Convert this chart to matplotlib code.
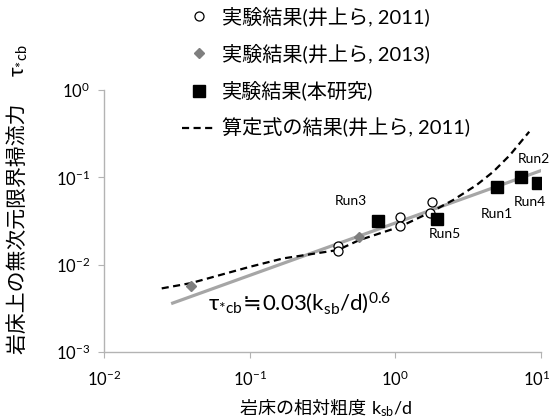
import matplotlib
matplotlib.use("Agg")
import matplotlib.pyplot as plt
import matplotlib.transforms as mtransforms
import numpy as np

plt.rcParams['font.family'] = ['Lato', 'Noto Sans CJK JP', 'DejaVu Sans']
plt.rcParams['mathtext.default'] = 'regular'

# measured data (k_sb/d, tau*cb)
inoue2011_x = [0.404, 0.404, 1.076, 1.076, 1.775, 1.73]
inoue2011_y = [0.0163, 0.0143, 0.0351, 0.0277, 0.0526, 0.0387]

inoue2013_x = [0.0395, 0.562]
inoue2013_y = [0.00569, 0.0207]

run_names = ['Run1', 'Run2', 'Run3', 'Run4', 'Run5']
run_x = [4.96, 7.28, 0.764, 9.48, 1.94]
run_y = [0.0768, 0.100, 0.0318, 0.0853, 0.033]

# computed curve (Inoue et al., 2011)
calc_x = [0.0249, 0.0395, 0.1005, 0.170, 0.402, 0.565, 1.076, 1.774,
          2.495, 3.614, 4.70, 6.12, 8.30]
calc_y = [0.00535, 0.00615, 0.00946, 0.0118, 0.0147, 0.0191, 0.0272,
          0.0404, 0.0550, 0.0817, 0.1159, 0.1799, 0.333]

# fitted power law tau = 0.03 (k/d)^0.6
fit_coef = 0.03
fit_exp = 0.6
fit_range = [0.0296, 10.0]

# label positions in pixel offsets from each square
run_offsets = {'Run1': (0, -27), 'Run2': (13, 18), 'Run3': (-27, 20),
               'Run4': (-8, -19), 'Run5': (8, -15)}

fig = plt.figure(figsize=(5.52, 4.19), dpi=100)
ax = fig.add_axes([0.1884, 0.1599, 0.7917, 0.6253])
renderer = fig.canvas.get_renderer()


def chain_text(x, y, parts, transform, vertical=False, **kw):
    # lay out text pieces one after another on a common baseline, so that
    # mathtext pieces and CJK pieces can each use their own font handling
    shift = 0.0
    for s in parts:
        if vertical:
            tr = mtransforms.offset_copy(transform, fig, x=0, y=shift, units='dots')
            t = fig.text(x, y, s, transform=tr, rotation=90, rotation_mode='anchor',
                         ha='left', va='baseline', **kw)
            shift += t.get_window_extent(renderer).height
        else:
            tr = mtransforms.offset_copy(transform, fig, x=shift, y=0, units='dots')
            t = fig.text(x, y, s, transform=tr, ha='left', va='baseline', **kw)
            shift += t.get_window_extent(renderer).width
    return shift


fx = np.array(fit_range)
ax.plot(fx, fit_coef * fx ** fit_exp, color='#a6a6a6', lw=2.3, zorder=2)
ax.plot(calc_x, calc_y, color='black', lw=1.6, ls=(0, (3.2, 2.0)), zorder=3,
        label='算定式の結果(井上ら, 2011)')
ax.plot(inoue2011_x, inoue2011_y, ls='none', marker='o', ms=6.5, mfc='white',
        mec='black', mew=0.9, zorder=4, label='実験結果(井上ら, 2011)')
ax.plot(inoue2013_x, inoue2013_y, ls='none', marker='D', ms=5.5, mfc='#7f7f7f',
        mec='#7f7f7f', zorder=5, label='実験結果(井上ら, 2013)')
ax.plot(run_x, run_y, ls='none', marker='s', ms=8.5, mfc='black', mec='black',
        zorder=6, label='実験結果(本研究)')

for name, x, y in zip(run_names, run_x, run_y):
    dx, dy = run_offsets[name]
    ax.annotate(name, (x, y), xytext=(dx, dy), textcoords='offset pixels',
                ha='center', va='center', fontsize=10, annotation_clip=False)

ax.set_xscale('log')
ax.set_yscale('log')
ax.set_xlim(0.01, 10)
ax.set_ylim(0.001, 1)
ax.set_xticks([0.01, 0.1, 1, 10])
ax.set_yticks([0.001, 0.01, 0.1, 1])
ax.set_xticklabels([r'10$^{-2}$', r'10$^{-1}$', r'10$^{0}$', r'10$^{1}$'])
ax.set_yticklabels([r'10$^{-3}$', r'10$^{-2}$', r'10$^{-1}$', r'10$^{0}$'])
ax.minorticks_off()
for side in ['top', 'right']:
    ax.spines[side].set_visible(False)
for side in ['left', 'bottom']:
    ax.spines[side].set_color('#b3b3b3')
    ax.spines[side].set_linewidth(1.0)
ax.tick_params(axis='both', which='major', direction='out', length=4,
               color='#b3b3b3', labelsize=12)
ax.tick_params(axis='x', pad=9)
ax.tick_params(axis='y', pad=6)

# nudge the rightmost x label so it stays inside the canvas
last = ax.get_xticklabels()[-1]
last.set_transform(last.get_transform()
                   + mtransforms.ScaledTranslation(-4 / 100, 0, fig.dpi_scale_trans))

# fitted-law caption
chain_text(0.052, 0.0030,
           [r'$\tau_{*cb}$', '≒', r'0.03(k$_{sb}$/d)$^{0.6}$'],
           ax.transData, fontsize=16)

# axis titles
chain_text(0.435, 0.012, ['岩床の相対粗度 ', r'k$_{sb}$/d'],
           fig.transFigure, fontsize=13)
chain_text(0.044, 0.155, ['岩床上の無次元限界掃流力　 ', r'$\tau_{*cb}$'],
           fig.transFigure, vertical=True, fontsize=15)

handles, labels = ax.get_legend_handles_labels()
order = [1, 2, 3, 0]
fig.legend([handles[i] for i in order], [labels[i] for i in order],
           loc='upper left', bbox_to_anchor=(0.315, 1.004), frameon=False,
           fontsize=14.5, handlelength=1.7, handletextpad=0.3,
           labelspacing=0.86, borderaxespad=0)

fig.savefig('out.png', dpi=100)
